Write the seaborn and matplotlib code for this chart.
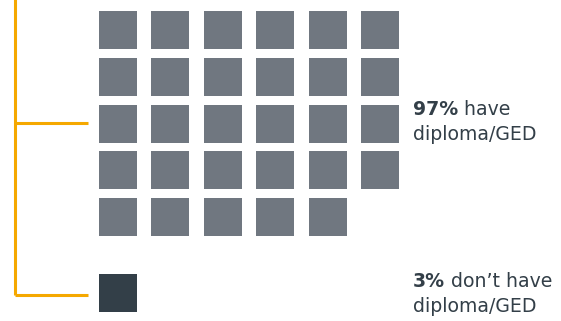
import matplotlib
matplotlib.use("Agg")
import matplotlib.pyplot as plt
import seaborn as sns
import pandas as pd
import numpy as np

# ---- data ----
groups = ["have", "don't have"]
percents = [97, 3]
squares = [29, 1]
labels_bold = ["97%", "3%"]
labels_rest = [" have", " don\u2019t have"]
labels_line2 = ["diploma/GED", "diploma/GED"]
colors = ["#707780", "#333F48"]

# ---- layout (pixels) ----
W, H = 561, 321
ncols = 6
col_step = 52.4
row_step = 46.75
x0 = 118
group_y0 = [30, 293]
sq_px = 38
orange = "#F5A800"
text_color = "#333F48"

sns.set_theme(style="white")
plt.rcParams["font.family"] = ["DejaVu Sans"]

rows = []
for g, n, y0 in zip(groups, squares, group_y0):
    for i in range(n):
        rows.append({"group": g, "x": x0 + (i % ncols) * col_step,
                     "y": y0 + (i // ncols) * row_step})
df = pd.DataFrame(rows)

fig = plt.figure(figsize=(W / 100, H / 100), dpi=100)
ax = fig.add_axes([0, 0, 1, 1])
ax.set_xlim(0, W)
ax.set_ylim(H, 0)
ax.axis("off")

size_pt = sq_px * 72 / 100
sns.scatterplot(data=df, x="x", y="y", hue="group", palette=dict(zip(groups, colors)),
                marker="s", s=size_pt ** 2, linewidth=0, legend=False, ax=ax)

# bracket lines
g1 = df[df.group == groups[0]].y
grp_centers = [(g1.min() + g1.max()) / 2 - 0.5,
               df[df.group == groups[1]].y.mean() + 2]
bx = 15
ax.plot([bx, bx], [-5, grp_centers[1]], color=orange, lw=2.2, solid_capstyle="butt")
for yc in grp_centers:
    ax.plot([bx, 88], [yc, yc], color=orange, lw=2.2, solid_capstyle="butt")

# labels
fs = 13.6
tx = 413
baselines = [(115, 140), (287, 312)]
for b, r, l2, (y1, y2) in zip(labels_bold, labels_rest, labels_line2, baselines):
    t = ax.text(tx, y1, b, fontsize=fs, fontweight="bold", color=text_color, va="baseline", ha="left")
    ax.annotate(r, xy=(1, 0), xycoords=t, va="bottom", ha="left", fontsize=fs, color=text_color)
    ax.text(tx, y2, l2, fontsize=fs, color=text_color, va="baseline", ha="left")

fig.savefig("out.png", dpi=100)
